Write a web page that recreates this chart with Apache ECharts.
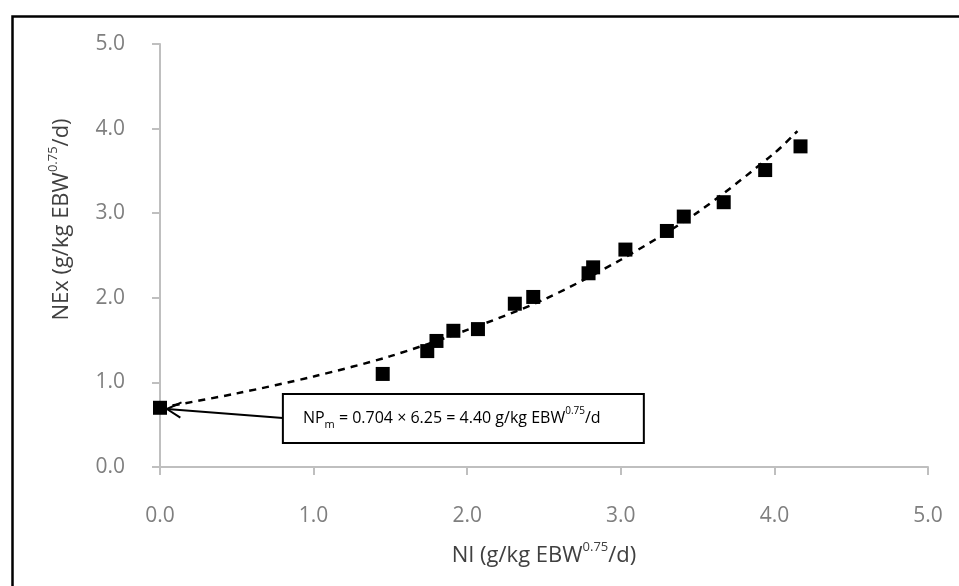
<!DOCTYPE html>
<html><head><meta charset="utf-8">
<script src="https://cdn.jsdelivr.net/npm/echarts@6/dist/echarts.min.js"></script>
<style>html,body{margin:0;padding:0;background:#fff}#c{width:959px;height:586px}</style>
</head><body><div id="c"></div>
<script>
// Observed points: NI (x) and NEx (y)
const niValues  = [0, 1.45, 1.74, 1.80, 1.91, 2.07, 2.31, 2.43, 2.79, 2.82, 3.03, 3.30, 3.41, 3.67, 3.94, 4.17];
const nexValues = [0.70, 1.10, 1.37, 1.49, 1.61, 1.63, 1.93, 2.01, 2.29, 2.36, 2.57, 2.79, 2.96, 3.13, 3.51, 3.79];
// Trend line
const trendNi  = [0, 0.5, 1, 1.5, 2, 2.5, 3, 3.5, 4, 4.15];
const trendNex = [0.70, 0.87, 1.07, 1.31, 1.62, 1.98, 2.45, 3.01, 3.71, 3.97];
// Tick labels
const xTickLabels = ['0.0', '1.0', '2.0', '3.0', '4.0', '5.0'];
const yTickLabels = ['0.0', '1.0', '2.0', '3.0', '4.0', '5.0'];
// Annotation (data coordinates)
const annoText = '{a|NP}{sub|m}{a| = 0.704 × 6.25 = 4.40 g/kg EBW}{sup|0.75}{a|/d}';
const annoBoxTopLeft = [0.80, 0.863];
const annoBoxBottomRight = [3.15, 0.284];
const arrowFrom = [0.80, 0.58];
const arrowTo = [0.045, 0.686];

const FONT = 'Open Sans';
const chart = echarts.init(document.getElementById('c'), null, {renderer: 'canvas'});

const points = niValues.map((x, i) => [x, nexValues[i]]);
const trend = trendNi.map((x, i) => [x, trendNex[i]]);

const axisLineStyle = {color: '#bfbfbf', width: 2};
const titleRich = {
  a: {fontFamily: FONT, fontSize: 22, color: '#404040', lineHeight: 30, verticalAlign: 'middle'},
  s: {fontFamily: FONT, fontSize: 13, color: '#404040', lineHeight: 14, verticalAlign: 'top'}
};

chart.setOption({
  animation: false,
  backgroundColor: '#ffffff',
  grid: {left: 160, right: 31, top: 44, bottom: 119},
  xAxis: {
    type: 'value', min: 0, max: 5, interval: 1,
    axisLine: {lineStyle: axisLineStyle},
    axisTick: {show: true, length: 8, lineStyle: axisLineStyle},
    splitLine: {show: false},
    axisLabel: {margin: 39, color: '#7f7f7f', fontFamily: FONT, fontSize: 21,
      formatter: v => xTickLabels[Math.round(v)]},
    name: '{a|NI (g/kg EBW}{s|0.75}{a|/d)}',
    nameLocation: 'middle', nameGap: 74,
    nameTextStyle: {rich: titleRich}
  },
  yAxis: {
    type: 'value', min: 0, max: 5, interval: 1,
    axisLine: {show: true, lineStyle: axisLineStyle},
    axisTick: {show: true, length: 8, lineStyle: axisLineStyle},
    splitLine: {show: false},
    axisLabel: {margin: 35, color: '#7f7f7f', fontFamily: FONT, fontSize: 21,
      formatter: v => yTickLabels[Math.round(v)]},
    name: '{a|NEx (g/kg EBW}{s|0.75}{a|/d)}',
    nameLocation: 'middle', nameGap: 83, nameRotate: 90,
    nameTextStyle: {rich: titleRich, padding: [0, 0, 0, 72]}
  },
  series: [
    {
      type: 'scatter', data: points, symbol: 'rect', symbolSize: 14,
      itemStyle: {color: '#000000', opacity: 1}, z: 2
    },
    {
      type: 'line', data: trend, smooth: 0.3, showSymbol: false, symbol: 'none',
      lineStyle: {color: '#000000', width: 2.5, type: [7, 6]}, z: 3
    }
  ]
});

function drawAnnotations() {
  const p = c => chart.convertToPixel({gridIndex: 0}, c);
  const tl = p(annoBoxTopLeft), br = p(annoBoxBottomRight);
  const a0 = p(arrowFrom), a1 = p(arrowTo);
  const ang = Math.atan2(a0[1] - a1[1], a0[0] - a1[0]);
  const hl = 16, spread = 0.5;
  const h1 = [a1[0] + hl * Math.cos(ang + spread), a1[1] + hl * Math.sin(ang + spread)];
  const h2 = [a1[0] + hl * Math.cos(ang - spread), a1[1] + hl * Math.sin(ang - spread)];
  chart.setOption({
    graphic: [
      {type: 'rect', left: 10, top: 14, z: 0, silent: true,
        shape: {width: 965, height: 600},
        style: {fill: 'none', stroke: '#000', lineWidth: 2.5}},
      {type: 'line', z: 10, shape: {x1: a0[0], y1: a0[1], x2: a1[0], y2: a1[1]},
        style: {stroke: '#000', lineWidth: 2}},
      {type: 'polyline', z: 10, shape: {points: [h1, a1, h2]},
        style: {stroke: '#000', lineWidth: 2, fill: 'none'}},
      {type: 'rect', z: 11, shape: {x: tl[0], y: tl[1], width: br[0] - tl[0], height: br[1] - tl[1]},
        style: {fill: '#fff', stroke: '#000', lineWidth: 2}},
      {type: 'text', z: 12, x: tl[0] + 20, y: (tl[1] + br[1]) / 2,
        style: {text: annoText, verticalAlign: 'middle', align: 'left',
          rich: {
            a: {fontFamily: FONT, fontSize: 16, color: '#595959', lineHeight: 24, verticalAlign: 'middle'},
            sub: {fontFamily: FONT, fontSize: 11, color: '#595959', lineHeight: 11, verticalAlign: 'bottom'},
            sup: {fontFamily: FONT, fontSize: 10, color: '#595959', lineHeight: 11, verticalAlign: 'top'}
          }}}
    ]
  });
}
drawAnnotations();
</script>
</body></html>
